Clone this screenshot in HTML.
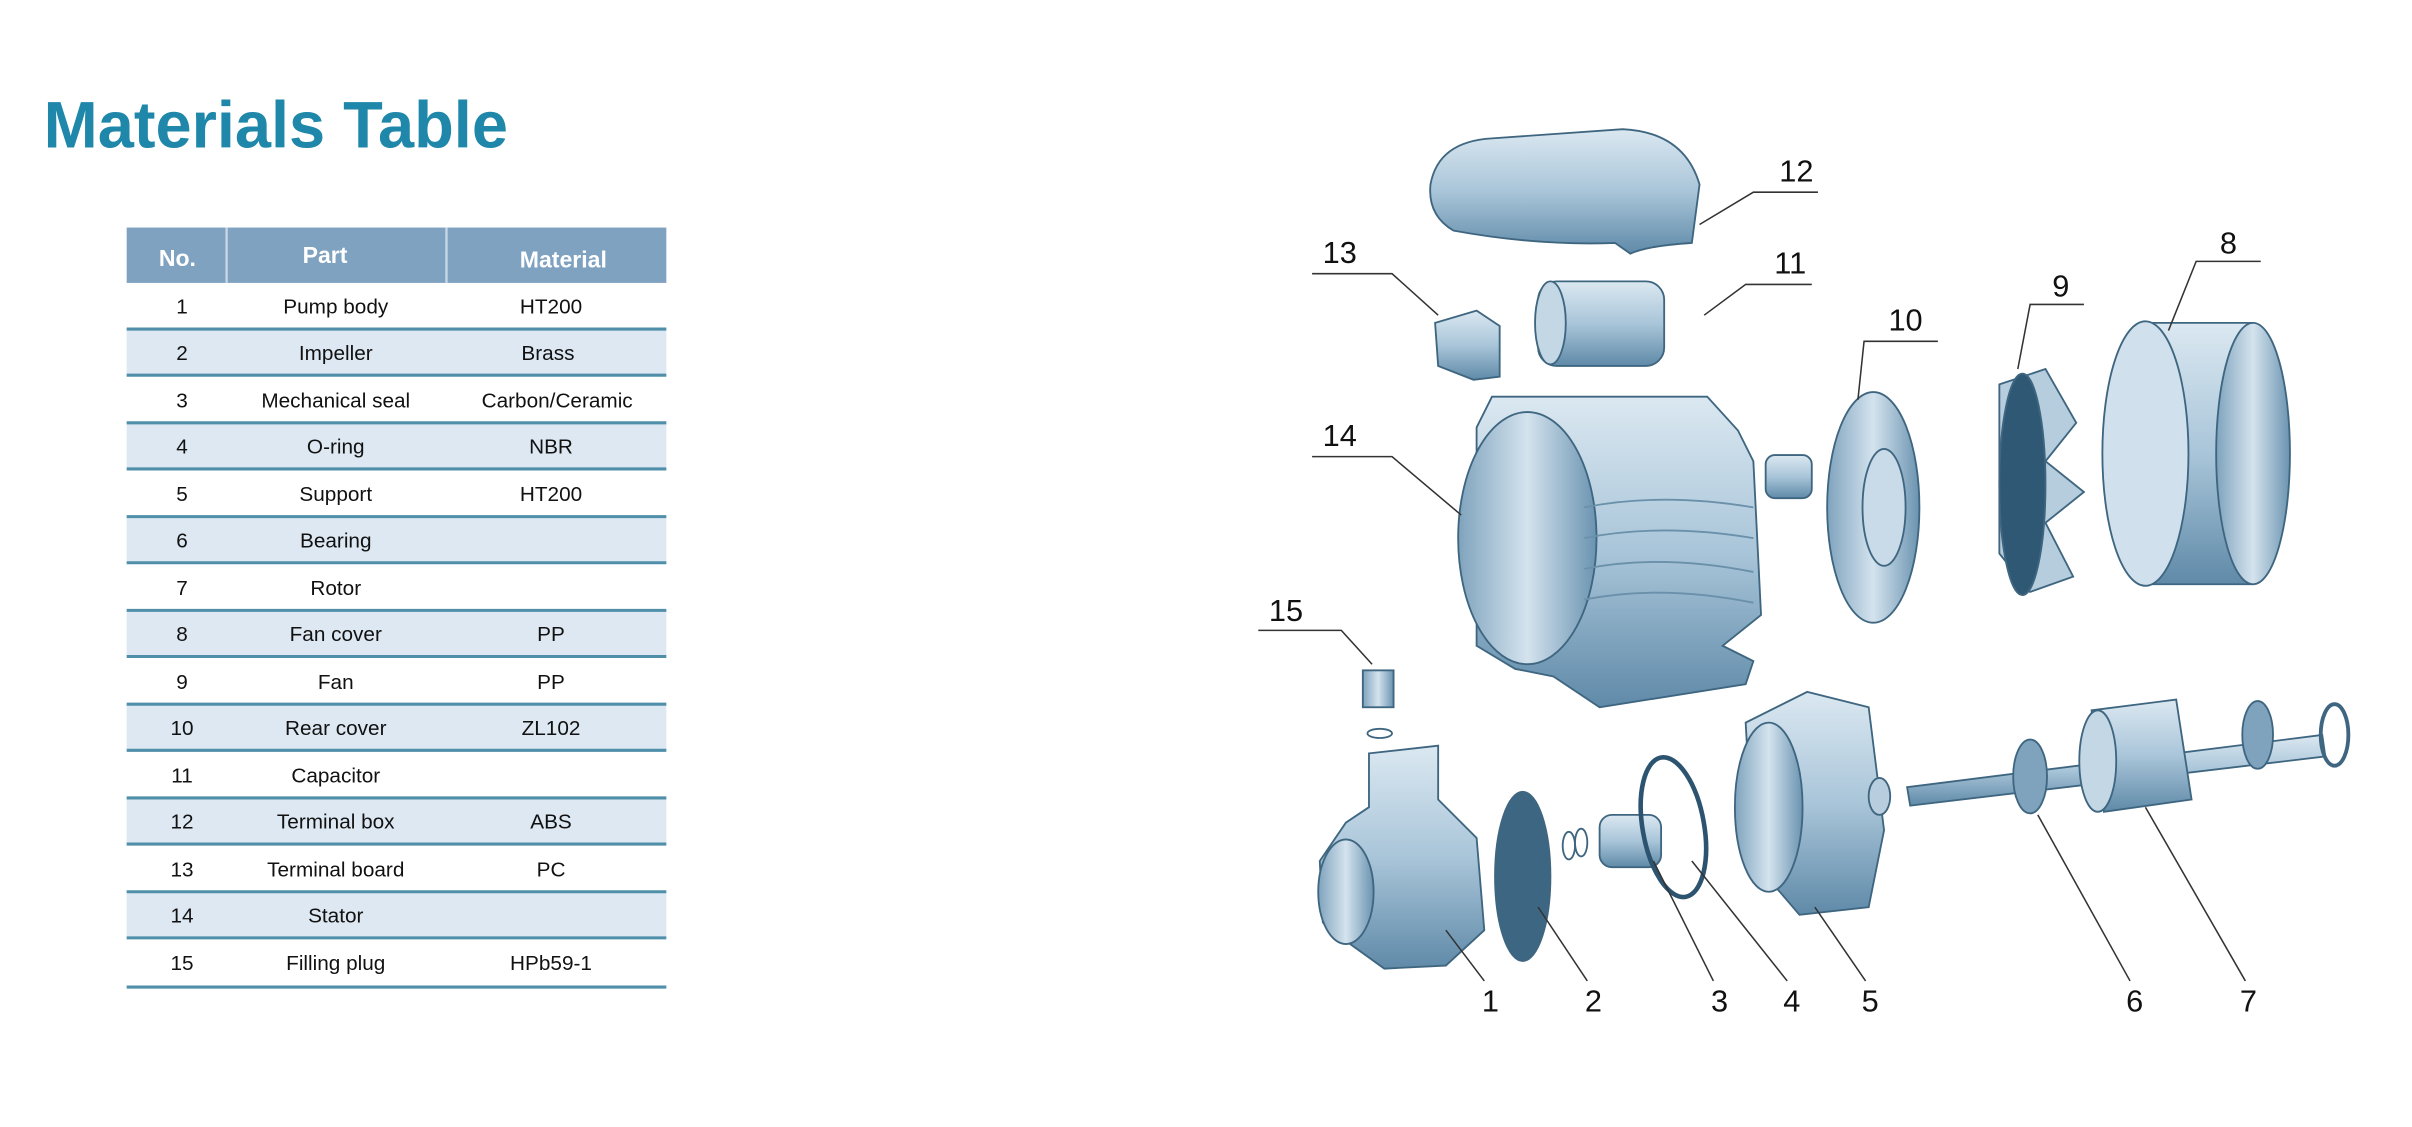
<!DOCTYPE html>
<html><head><meta charset="utf-8"><style>
html,body{margin:0;padding:0;background:#fff;}
svg{display:block;}
</style></head><body>
<svg width="2412" height="1127" viewBox="0 0 1568 733" xmlns="http://www.w3.org/2000/svg" font-family="Liberation Sans, sans-serif">
<defs>
<linearGradient id="g" x1="0" y1="0" x2="0" y2="1"><stop offset="0" stop-color="#dbe8f1"/><stop offset="0.5" stop-color="#a9c5d9"/><stop offset="1" stop-color="#5f8aa8"/></linearGradient>
<linearGradient id="gh" x1="0" y1="0" x2="1" y2="0"><stop offset="0" stop-color="#7fa3bd"/><stop offset="0.5" stop-color="#d4e3ee"/><stop offset="1" stop-color="#6a93b0"/></linearGradient>
</defs>
<text x="28" y="96" font-size="43" font-weight="bold" fill="#1f87a9" textLength="302" lengthAdjust="spacingAndGlyphs">Materials Table</text>
<!-- table -->
<rect x="82" y="148" width="351" height="36" fill="#7fa2c0"/>
<line x1="147" y1="148" x2="147" y2="184" stroke="#c8d8e6" stroke-width="1.5"/>
<line x1="290" y1="148" x2="290" y2="184" stroke="#c8d8e6" stroke-width="1.5"/>
<g font-size="15" font-weight="bold" fill="#fff" text-anchor="middle">
<text x="115" y="173">No.</text><text x="211" y="171">Part</text><text x="366" y="174">Material</text></g>
<g fill="#dde8f2">
<rect x="82" y="214" width="351" height="30"/><rect x="82" y="275" width="351" height="30"/><rect x="82" y="336" width="351" height="30"/><rect x="82" y="397" width="351" height="30"/><rect x="82" y="458" width="351" height="30"/><rect x="82" y="519" width="351" height="30"/><rect x="82" y="580" width="351" height="30"/></g>
<g stroke="#4f8faa" stroke-width="2">
<line x1="82" y1="214" x2="433" y2="214"/><line x1="82" y1="244" x2="433" y2="244"/><line x1="82" y1="275" x2="433" y2="275"/><line x1="82" y1="305" x2="433" y2="305"/><line x1="82" y1="336" x2="433" y2="336"/><line x1="82" y1="366" x2="433" y2="366"/><line x1="82" y1="397" x2="433" y2="397"/><line x1="82" y1="427" x2="433" y2="427"/><line x1="82" y1="458" x2="433" y2="458"/><line x1="82" y1="488" x2="433" y2="488"/><line x1="82" y1="519" x2="433" y2="519"/><line x1="82" y1="549" x2="433" y2="549"/><line x1="82" y1="580" x2="433" y2="580"/><line x1="82" y1="610" x2="433" y2="610"/><line x1="82" y1="642" x2="433" y2="642"/></g>
<g font-size="13.5" fill="#111" text-anchor="middle">
<text x="118" y="204">1</text><text x="218" y="204">Pump body</text><text x="358" y="204">HT200</text>
<text x="118" y="234">2</text><text x="218" y="234">Impeller</text><text x="356" y="234">Brass</text>
<text x="118" y="265">3</text><text x="218" y="265">Mechanical seal</text><text x="362" y="265">Carbon/Ceramic</text>
<text x="118" y="295">4</text><text x="218" y="295">O-ring</text><text x="358" y="295">NBR</text>
<text x="118" y="326">5</text><text x="218" y="326">Support</text><text x="358" y="326">HT200</text>
<text x="118" y="356">6</text><text x="218" y="356">Bearing</text>
<text x="118" y="387">7</text><text x="218" y="387">Rotor</text>
<text x="118" y="417">8</text><text x="218" y="417">Fan cover</text><text x="358" y="417">PP</text>
<text x="118" y="448">9</text><text x="218" y="448">Fan</text><text x="358" y="448">PP</text>
<text x="118" y="478">10</text><text x="218" y="478">Rear cover</text><text x="358" y="478">ZL102</text>
<text x="118" y="509">11</text><text x="218" y="509">Capacitor</text>
<text x="118" y="539">12</text><text x="218" y="539">Terminal box</text><text x="358" y="539">ABS</text>
<text x="118" y="570">13</text><text x="218" y="570">Terminal board</text><text x="358" y="570">PC</text>
<text x="118" y="600">14</text><text x="218" y="600">Stator</text>
<text x="118" y="631">15</text><text x="218" y="631">Filling plug</text><text x="358" y="631">HPb59-1</text>
</g>
<!-- parts -->
<g stroke="#3f6680" stroke-width="1.2">
<path d="M930,120 Q935,92 970,90 L1055,84 Q1095,86 1105,120 L1100,158 Q1070,160 1060,165 L1050,158 Q1000,160 945,150 Q928,140 930,120Z" fill="url(#g)"/>
<path d="M933,210 L960,202 L975,212 L975,245 L958,247 L935,238Z" fill="url(#g)"/>
<rect x="1000" y="183" width="82" height="55" rx="12" fill="url(#g)"/>
<ellipse cx="1008" cy="210" rx="10" ry="27" fill="#c4d7e5"/>
<path d="M960,278 L970,258 L1110,258 L1130,280 L1140,300 L1145,400 L1120,420 L1140,430 L1135,445 L1040,460 L1010,440 L985,435 L960,420Z" fill="url(#g)"/>
<ellipse cx="993" cy="350" rx="45" ry="82" fill="url(#gh)"/>
<g stroke="#6a90aa" fill="none"><path d="M1030,330 Q1080,320 1140,330"/><path d="M1030,350 Q1080,340 1140,350"/><path d="M1030,370 Q1080,360 1140,372"/><path d="M1030,390 Q1080,380 1140,392"/></g>
<rect x="1148" y="296" width="30" height="28" rx="6" fill="url(#g)"/>
<ellipse cx="1218" cy="330" rx="30" ry="75" fill="url(#gh)"/><ellipse cx="1225" cy="330" rx="14" ry="38" fill="#c9dbe8"/>
<path d="M1300,250 L1330,240 L1350,275 L1330,300 L1355,320 L1330,340 L1348,375 L1320,385 L1300,360 Z" fill="#b6cddd"/>
<ellipse cx="1315" cy="315" rx="15" ry="72" fill="#2f5874"/>
<path d="M1395,210 L1465,210 Q1492,295 1465,380 L1395,380Z" fill="url(#g)"/>
<ellipse cx="1465" cy="295" rx="24" ry="85" fill="url(#gh)"/>
<ellipse cx="1395" cy="295" rx="28" ry="86" fill="#d0e0ec"/>
<rect x="886" y="436" width="20" height="24" fill="url(#gh)"/><ellipse cx="897" cy="477" rx="8" ry="3" fill="none"/>
<path d="M890,490 L935,485 L935,520 L960,545 L965,605 L940,628 L900,630 L875,612 L860,600 L858,560 L875,535 L890,525Z" fill="url(#g)"/>
<ellipse cx="875" cy="580" rx="18" ry="34" fill="url(#gh)"/>
<ellipse cx="990" cy="570" rx="18" ry="55" fill="#3d6682"/>
<ellipse cx="1020" cy="550" rx="4" ry="9" fill="none"/><ellipse cx="1028" cy="548" rx="4" ry="9" fill="none"/>
<rect x="1040" y="530" width="40" height="34" rx="8" fill="url(#g)"/>
<ellipse cx="1088" cy="538" rx="20" ry="46" fill="none" stroke="#2c5470" stroke-width="3" transform="rotate(-10 1088 538)"/>
<path d="M1135,470 L1175,450 L1215,460 L1225,540 L1215,590 L1170,595 L1140,560 Z" fill="url(#g)"/>
<ellipse cx="1150" cy="525" rx="22" ry="55" fill="url(#gh)"/>
<ellipse cx="1222" cy="518" rx="7" ry="12" fill="#b8cede"/>
<path d="M1240,512 L1510,478 L1512,492 L1242,524Z" fill="url(#g)"/>
<ellipse cx="1320" cy="505" rx="11" ry="24" fill="#7fa2bd"/>
<path d="M1360,462 L1415,455 L1425,520 L1368,528Z" fill="url(#g)"/>
<ellipse cx="1364" cy="495" rx="12" ry="33" fill="#c4d7e5"/>
<ellipse cx="1468" cy="478" rx="10" ry="22" fill="#7fa2bd"/>
<ellipse cx="1518" cy="478" rx="9" ry="20" fill="none" stroke-width="2.5"/>
</g>
<g stroke="#333" stroke-width="1" fill="none">
<path d="M1182,125 L1140,125 L1105,146"/>
<path d="M853,178 L905,178 L935,205"/>
<path d="M1178,185 L1135,185 L1108,205"/>
<path d="M1260,222 L1212,222 L1208,260"/>
<path d="M1355,198 L1320,198 L1312,240"/>
<path d="M1470,170 L1428,170 L1410,215"/>
<path d="M853,297 L905,297 L950,335"/>
<path d="M818,410 L872,410 L892,432"/>
<path d="M965,638 L940,605"/><path d="M1032,638 L1000,590"/><path d="M1114,638 L1075,560"/><path d="M1162,638 L1100,560"/><path d="M1213,638 L1180,590"/><path d="M1385,638 L1325,530"/><path d="M1460,638 L1395,525"/>
</g>
<g font-size="20" fill="#111" text-anchor="middle">
<text x="1168" y="118">12</text><text x="871" y="171">13</text><text x="1164" y="178">11</text><text x="1239" y="215">10</text><text x="1340" y="193">9</text><text x="1449" y="165">8</text><text x="871" y="290">14</text><text x="836" y="404">15</text>
<text x="969" y="658">1</text><text x="1036" y="658">2</text><text x="1118" y="658">3</text><text x="1165" y="658">4</text><text x="1216" y="658">5</text><text x="1388" y="658">6</text><text x="1462" y="658">7</text>
</g>
</svg>
</body></html>
